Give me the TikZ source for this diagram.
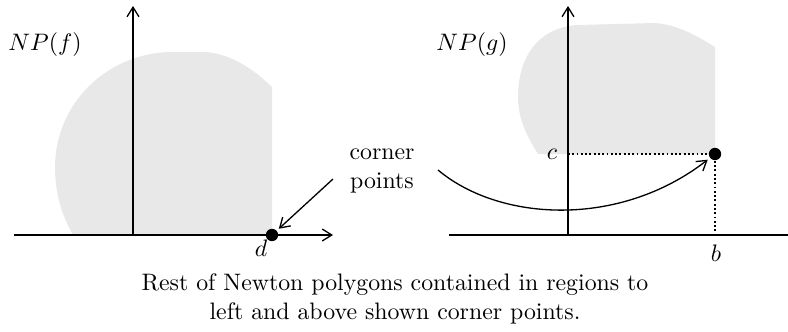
\documentclass[tikz,border=0pt]{standalone}
\usetikzlibrary{positioning, arrows.meta}

\begin{document}
\begin{tikzpicture}[
    x=0.42pt, y=-0.42pt,
    line width=0.55pt,
    axis/.style={-{Straight Barb[length=4pt, width=5pt]}},
    pointer/.style={-{Straight Barb[length=4pt, width=5pt]}, shorten >=1pt},
    region/.style={fill=black!9},
    corner/.style={circle, fill=black, inner sep=0pt, minimum size=5.2pt},
    guide/.style={densely dotted, line width=0.8pt}
]
\useasboundingbox (0,0) rectangle (788,331);

% Newton polygon of f
\fill[region] (73,235) .. controls (60,212) and (55,190) .. (55,167)
    .. controls (55,104) and (107,52) .. (173,52) -- (207,52)
    .. controls (232,55) and (252,68) .. (272,87) -- (272,235) -- cycle;
\draw[axis] (14,235) -- (333,235);
\draw[axis] (133,235) -- (133,6);
\node (npf) at (45,45) {$NP(f)$};
\node[corner] (ptd) at (272,235) {};
\node (labd) at (261,248) {$d$};

% Newton polygon of g
\fill[region] (538,154) .. controls (524,132) and (518,115) .. (518,97)
    .. controls (518,55) and (540,27) .. (578,25) -- (655,23)
    .. controls (680,25) and (700,38) .. (715,47) -- (715,154) -- cycle;
\draw (449,235) -- (788,235);
\draw[axis] (568,235) -- (568,6);
\node (npg) at (472,45) {$NP(g)$};
\node[corner] (ptbc) at (715,154) {};
\node (labc) at (552,154) {$c$};
\node (labb) at (716,253) {$b$};
\draw[guide] (568,154) -- (ptbc);
\draw[guide] (ptbc) -- (715,235);

% Corner points pointers
\node[align=center] (cornertext) at (382,171) {corner\\points};
\coordinate (fromf) at (333,179);
\coordinate (fromg) at (438,170);
\draw[pointer] (fromf) -- (ptd);
\draw[pointer] (fromg) .. controls (500,222) and (620,228) .. (ptbc);

% Caption
\node[align=center] (caption) at (395,299)
    {Rest of Newton polygons contained in regions to\\left and above shown corner points.};

\end{tikzpicture}
\end{document}
